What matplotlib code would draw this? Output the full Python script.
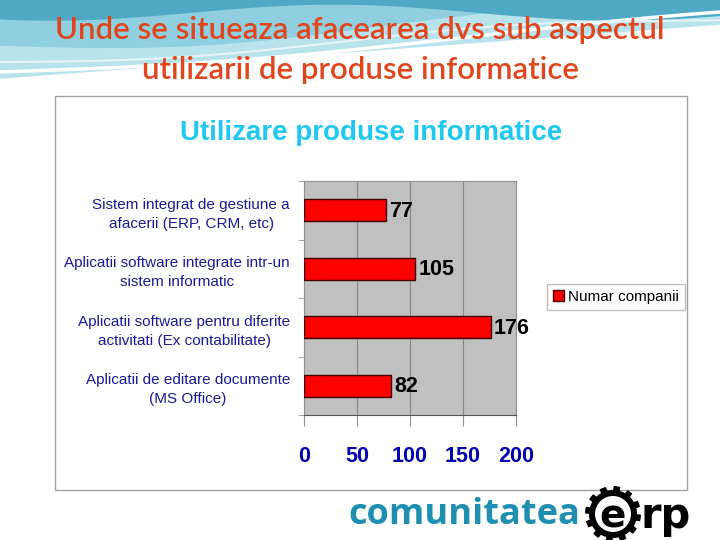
import matplotlib.pyplot as plt
import matplotlib.patches as patches
import numpy as np

# date
categorii = ["Sistem integrat de gestiune a\nafacerii (ERP, CRM, etc)",
             "Aplicatii software integrate intr-un\nsistem informatic",
             "Aplicatii software pentru diferite\nactivitati (Ex contabilitate)",
             "Aplicatii de editare documente\n(MS Office)"]
valori = [77, 105, 176, 82]
x_ticks = [0, 50, 100, 150, 200]
serie = "Numar companii"

fig = plt.figure(figsize=(7.2, 5.4), dpi=100)

# fundal slide
bg = fig.add_axes([0, 0, 1, 1], zorder=-10)
bg.set_xlim(0, 720)
bg.set_ylim(540, 0)
bg.axis("off")
xs = np.linspace(0, 720, 200)
bg.fill_between(xs, 0, 78 - 0.075 * xs, color="#b8e2ec")
bg.fill_between(xs, 0, 45 - 0.05 * xs + 10 * np.sin(xs / 120), color="#8fcfe0")
bg.fill_between(xs, 0, 12 + 8 * np.sin(xs / 90 + 1), color="#4fa8c4")
bg.plot(xs, 72 - 0.075 * xs + 6 * np.sin(xs / 150), color="white", lw=2.5)
bg.plot(xs, 62 - 0.06 * xs + 6 * np.sin(xs / 110), color="#e4f4f8", lw=1.5)
bg.add_patch(patches.Rectangle((55, 96), 632, 394, facecolor="white",
                               edgecolor="#a0a0a0", lw=1))

fig.text(0.5, 1 - 30 / 540, "Unde se situeaza afacearea dvs sub aspectul",
         ha="center", va="center", color="#e0451c", fontsize=22.5,
         fontweight="semibold", family="Lato")
fig.text(0.5, 1 - 70 / 540, "utilizarii de produse informatice",
         ha="center", va="center", color="#e0451c", fontsize=22.5,
         fontweight="semibold", family="Lato")

fig.text(371 / 720, 1 - 133 / 540, "Utilizare produse informatice", ha="center",
         va="center", color="#1ec8f0", fontsize=20, fontweight="bold",
         family="Liberation Sans")

# grafic
ax = fig.add_axes([304 / 720, 1 - 415 / 540, 212 / 720, 234 / 540])
ax.set_facecolor("#c0c0c0")
y = np.arange(len(categorii))
ax.barh(y, valori, height=0.38, color="#ff0000", edgecolor="#400000", lw=1,
        label=serie, zorder=3)
for yi, v in zip(y, valori):
    ax.text(v + 3, yi + 0.02, str(v), va="center", ha="left", fontsize=15.5,
            fontweight="bold", family="Liberation Sans", color="black")
ax.set_xlim(0, 200)
ax.set_ylim(3.5, -0.5)
ax.set_xticks(x_ticks)
ax.set_xticklabels([str(t) for t in x_ticks], color="#0000b0", fontsize=15.5,
                   fontweight="bold", family="Liberation Sans")
ax.tick_params(axis="x", length=8, pad=14, color="#909090")
ax.set_yticks(y)
ax.set_yticklabels(categorii, color="#1a1a99", fontsize=11,
                   family="Liberation Sans", multialignment="center",
                   linespacing=1.45)
ax.set_yticks(np.arange(-0.5, 4, 1), minor=True)
ax.tick_params(axis="y", which="major", length=0, pad=10)
ax.tick_params(axis="y", which="minor", length=4, color="#909090")
ax.grid(axis="x", color="#888888", lw=0.8, zorder=0)
for s in ["top", "right", "left"]:
    ax.spines[s].set_color("#909090")
ax.spines["bottom"].set_color("#555555")

leg = fig.legend(loc="center", bbox_to_anchor=(616 / 720, 1 - 297 / 540),
                 frameon=True, fancybox=False, edgecolor="#b0b0b0",
                 handlelength=0.7, handleheight=0.7, handletextpad=0.3,
                 borderpad=0.4, borderaxespad=0,
                 prop={"family": "Liberation Sans", "size": 11})

# logo
fig.text(348 / 720, 1 - 515 / 540, "comunitatea", ha="left", va="center",
         color="#1e8fb0", fontsize=26, fontweight="bold", family="Open Sans")
ang = np.linspace(0, 2 * np.pi, 241)
rad = 24 + 4 * (np.sign(np.sin(12 * ang)) > 0)
bg.add_patch(patches.Polygon(np.c_[613 + rad * np.cos(ang), 514 + rad * np.sin(ang)],
                             closed=True, facecolor="black", edgecolor="none"))
bg.add_patch(patches.Circle((613, 514), 18, facecolor="white", edgecolor="none"))
fig.text(613 / 720, 1 - 516 / 540, "e", ha="center", va="center",
         color="black", fontsize=28, fontweight="bold", family="DejaVu Sans")
fig.text(641 / 720, 1 - 528 / 540, "rp", ha="left", va="baseline",
         color="black", fontsize=30, fontweight="bold", family="DejaVu Sans")

fig.savefig("out.png", dpi=100)
